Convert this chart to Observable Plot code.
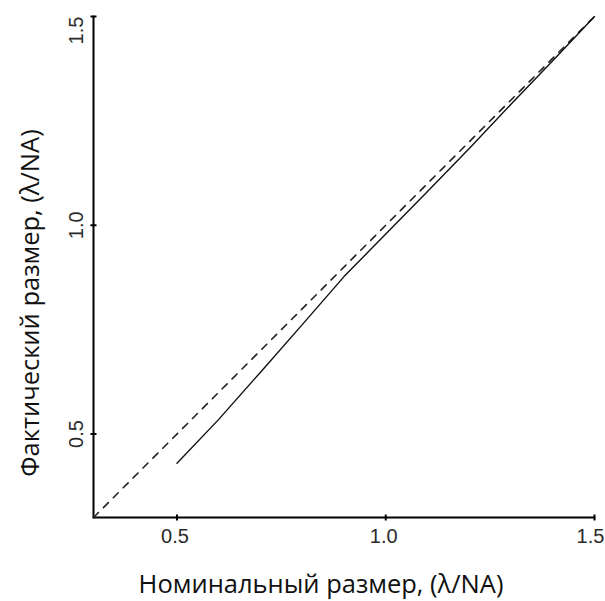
<!DOCTYPE html>
<html>
<head>
<meta charset="utf-8">
<script src="https://cdn.jsdelivr.net/npm/d3@7"></script>
<script src="https://cdn.jsdelivr.net/npm/@observablehq/plot@0.6"></script>
<style>
  html, body { margin: 0; padding: 0; background: #fff; }
</style>
</head>
<body>
<div id="chart"></div>
<script>
// Data
const nominal = [0.5, 0.6, 0.7, 0.8, 0.9, 1.0, 1.1, 1.2, 1.3, 1.4, 1.5];
const actual  = [0.43, 0.535, 0.648, 0.762, 0.877, 0.979, 1.081, 1.184, 1.29, 1.394, 1.5];
const identityX = [0.3, 1.5];
const xTicks = [0.5, 1.0, 1.5];
const yTicks = [0.5, 1.0, 1.5];
const xTitle = "Номинальный размер, (λ/NA)";
const yTitle = "Фактический размер, (λ/NA)";

const measured = nominal.map((x, i) => ({x, y: actual[i]}));
const identity = identityX.map(v => ({x: v, y: v}));

const vTick = {draw(ctx, size) { const r = Math.sqrt(size / Math.PI); ctx.moveTo(0, -r); ctx.lineTo(0, r); }};
const hTick = {draw(ctx, size) { const r = Math.sqrt(size / Math.PI); ctx.moveTo(-r, 0); ctx.lineTo(r, 0); }};

const tickFont = "'Liberation Sans', Arial, sans-serif";
const titleFont = "'Open Sans', sans-serif";
const tickSize = 20;

const chart = Plot.plot({
  width: 605,
  height: 601,
  marginLeft: 93,
  marginRight: 11,
  marginTop: 16,
  marginBottom: 84,
  x: {domain: [0.3, 1.5], axis: null},
  y: {domain: [0.3, 1.5], axis: null},
  style: {background: "#fff"},
  marks: [
    // axis lines
    Plot.lineY([{x: 0.3, y: 0.3}, {x: 0.3, y: 1.5}], {x: "x", y: "y", stroke: "#000", strokeWidth: 2}),
    Plot.lineY([{x: 0.3, y: 0.3}, {x: 1.5, y: 0.3}], {x: "x", y: "y", stroke: "#000", strokeWidth: 2}),
    // ticks crossing the axes
    Plot.dot(xTicks, {x: d => d, y: () => 0.3, symbol: vTick, r: 3, stroke: "#000", strokeWidth: 2, fill: "none"}),
    Plot.dot(yTicks, {x: () => 0.3, y: d => d, symbol: hTick, r: 3, stroke: "#000", strokeWidth: 2, fill: "none"}),
    // tick labels (the last ones nudged inward, as in the reference)
    Plot.text(xTicks, {x: d => d, y: () => 0.3, text: d => d.toFixed(1), dy: 19,
      dx: -2, lineAnchor: "middle", textAnchor: "middle",
      fontSize: tickSize, fontFamily: tickFont, fill: "#2a2a2a",
      filter: d => d < 1.5}),
    Plot.text(xTicks, {x: d => d, y: () => 0.3, text: d => d.toFixed(1), dy: 19,
      dx: -4, lineAnchor: "middle", textAnchor: "middle",
      fontSize: tickSize, fontFamily: tickFont, fill: "#2a2a2a",
      filter: d => d >= 1.5}),
    Plot.text(yTicks, {x: () => 0.3, y: d => d, text: d => d.toFixed(1), dx: -17, rotate: -90,
      lineAnchor: "middle", textAnchor: "middle",
      fontSize: tickSize, fontFamily: tickFont, fill: "#2a2a2a", filter: d => d < 1.5}),
    Plot.text(yTicks, {x: () => 0.3, y: d => d, text: d => d.toFixed(1), dx: -17, dy: 14, rotate: -90,
      lineAnchor: "middle", textAnchor: "middle",
      fontSize: tickSize, fontFamily: tickFont, fill: "#2a2a2a", filter: d => d >= 1.5}),
    // identity dashed line
    Plot.line(identity, {x: "x", y: "y", stroke: "#222", strokeWidth: 1.6, strokeDasharray: "7,7"}),
    // measured line
    Plot.line(measured, {x: "x", y: "y", stroke: "#111", strokeWidth: 1.4}),
    // axis titles
    Plot.text([xTitle], {frameAnchor: "bottom", text: d => d, dx: -23, dy: 67,
      lineAnchor: "middle", textAnchor: "middle",
      fontSize: 25.5, fontFamily: titleFont, fill: "#111"}),
    Plot.text([yTitle], {frameAnchor: "left", text: d => d, dx: -63, dy: 36, rotate: -90,
      lineAnchor: "middle", textAnchor: "middle",
      fontSize: 25.5, fontFamily: titleFont, fill: "#111"})
  ]
});
document.getElementById("chart").appendChild(chart);
</script>
</body>
</html>
